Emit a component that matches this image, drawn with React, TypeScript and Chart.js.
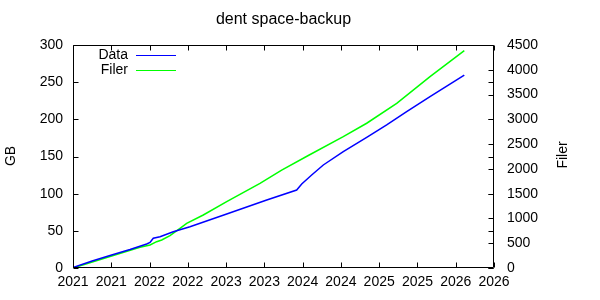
import React, { useEffect, useRef } from "react";
import { Chart, registerables } from "chart.js";

Chart.register(...registerables);

const TITLE = "dent space-backup";
const Y_LABEL = "GB";
const Y2_LABEL = "Filer";
const DATA_LABEL = "Data";
const FILER_LABEL = "Filer";

// decimal years
const dataYears = [2021.0, 2021.25, 2021.505, 2021.745, 2021.963, 2022.006, 2022.049, 2022.137, 2022.31, 2022.528, 2023.008, 2023.531, 2023.922, 2023.988, 2024.118, 2024.27, 2024.531, 2024.837, 2025.098, 2025.359, 2025.664, 2026.112];
const dataGB = [0.7, 9.4, 17.5, 24.9, 32.3, 34.3, 40, 42.1, 48.8, 55.6, 72.6, 91.5, 104.9, 113, 125.1, 138.6, 156.5, 175.8, 192.4, 210.3, 230.4, 259.6];

const filerYears = [2021.0, 2021.505, 2021.875, 2022.006, 2022.093, 2022.159, 2022.267, 2022.398, 2022.485, 2022.702, 2023.008, 2023.443, 2023.726, 2024.074, 2024.531, 2024.837, 2025.229, 2025.664, 2026.112];
const filerValues = [0, 242, 417, 465, 531, 566, 653, 801, 902, 1070, 1338, 1709, 1977, 2270, 2650, 2921, 3324, 3861, 4385];

const X_MIN = 2021;
const X_MAX = 2026.5;
const X_STEP = 0.5;
const Y_MAX = 300;
const Y_STEP = 50;
const Y2_MAX = 4500;
const Y2_STEP = 500;

const FONT = "Liberation Sans, Arial, sans-serif";

const frame = {
  id: "gnuframe",
  afterDraw(chart: any) {
    const ctx = chart.ctx;
    const a = chart.chartArea;
    const L = Math.round(a.left) + 0.5;
    const R = Math.round(a.right) - 0.5;
    const T = Math.round(a.top) + 0.5;
    const B = Math.round(a.bottom) - 0.5;
    const tl = 5;
    ctx.save();
    ctx.strokeStyle = "#000";
    ctx.lineWidth = 1;
    ctx.beginPath();
    ctx.rect(L, T, R - L, B - T);
    const xs = chart.scales.x;
    xs.ticks.forEach((t: any) => {
      const px = Math.round(xs.getPixelForValue(t.value)) + 0.5;
      ctx.moveTo(px, B); ctx.lineTo(px, B - tl);
      ctx.moveTo(px, T); ctx.lineTo(px, T + tl);
    });
    const ys = chart.scales.y;
    ys.ticks.forEach((t: any) => {
      const py = Math.round(ys.getPixelForValue(t.value)) + 0.5;
      ctx.moveTo(L, py); ctx.lineTo(L + tl, py);
      ctx.moveTo(R, py); ctx.lineTo(R - tl, py);
    });
    const y2 = chart.scales.y2;
    y2.ticks.forEach((t: any) => {
      const py = Math.round(y2.getPixelForValue(t.value)) + 0.5;
      ctx.moveTo(R, py); ctx.lineTo(R - tl, py);
    });
    ctx.stroke();

    ctx.fillStyle = "#000";
    ctx.textBaseline = "middle";
    ctx.textAlign = "center";
    ctx.font = "16px " + FONT;
    ctx.fillText(TITLE, (a.left + a.right) / 2, 20);

    ctx.font = "14px " + FONT;
    ctx.save();
    ctx.translate(11, 156);
    ctx.rotate(-Math.PI / 2);
    ctx.fillText(Y_LABEL, 0, 0);
    ctx.restore();
    ctx.save();
    ctx.translate(563, 155);
    ctx.rotate(-Math.PI / 2);
    ctx.fillText(Y2_LABEL, 0, 0);
    ctx.restore();

    // legend
    const items = [
      { label: DATA_LABEL, color: chart.data.datasets[0].borderColor, y: 55.5 },
      { label: FILER_LABEL, color: chart.data.datasets[1].borderColor, y: 70.5 },
    ];
    ctx.textAlign = "right";
    items.forEach((it) => {
      ctx.fillStyle = "#000";
      ctx.fillText(it.label, 128, it.y);
      ctx.strokeStyle = it.color;
      ctx.beginPath();
      ctx.moveTo(136, it.y);
      ctx.lineTo(176, it.y);
      ctx.stroke();
    });
    ctx.restore();
  },
};

export default function App() {
  const ref = useRef<HTMLCanvasElement>(null);
  useEffect(() => {
    if (!ref.current) return;
    const chart = new Chart(ref.current, {
      type: "line",
      data: {
        datasets: [
          {
            label: DATA_LABEL,
            data: dataYears.map((x, i) => ({ x, y: dataGB[i] })),
            borderColor: "#0000ff",
            borderWidth: 1.5,
            pointRadius: 0,
            yAxisID: "y",
            tension: 0,
          },
          {
            label: FILER_LABEL,
            data: filerYears.map((x, i) => ({ x, y: filerValues[i] })),
            borderColor: "#00ff00",
            borderWidth: 1.5,
            pointRadius: 0,
            yAxisID: "y2",
            tension: 0,
          },
        ],
      },
      plugins: [frame],
      options: {
        responsive: false,
        animation: false,
        layout: { padding: { top: 45, left: 0, right: 0, bottom: 0 } },
        plugins: { legend: { display: false }, tooltip: { enabled: false }, title: { display: false } },
        scales: {
          x: {
            type: "linear",
            min: X_MIN,
            max: X_MAX,
            grid: { display: false, drawTicks: false },
            border: { display: false },
            afterFit: (s: any) => { s.height = 32; },
            ticks: {
              stepSize: X_STEP,
              autoSkip: false,
              maxRotation: 0,
              padding: 6,
              color: "#000",
              font: { family: FONT, size: 14 },
              callback: (v: any) => String(Math.floor(Number(v) + 1e-6)),
            },
          },
          y: {
            position: "left",
            min: 0,
            max: Y_MAX,
            grid: { display: false, drawTicks: false },
            border: { display: false },
            afterFit: (s: any) => { s.width = 73; },
            ticks: { stepSize: Y_STEP, padding: 10, color: "#000", font: { family: FONT, size: 14 }, callback: (v: any) => String(v) },
          },
          y2: {
            position: "right",
            min: 0,
            max: Y2_MAX,
            grid: { display: false, drawTicks: false },
            border: { display: false },
            afterFit: (s: any) => { s.width = 106; },
            ticks: { stepSize: Y2_STEP, padding: 13, color: "#000", font: { family: FONT, size: 14 }, callback: (v: any) => String(v) },
          },
        },
      },
    });
    return () => chart.destroy();
  }, []);
  return (
    <div style={{ position: "absolute", left: 0, top: 0, width: 600, height: 300, background: "#fff" }}>
      <canvas ref={ref} width={600} height={300} />
    </div>
  );
}
